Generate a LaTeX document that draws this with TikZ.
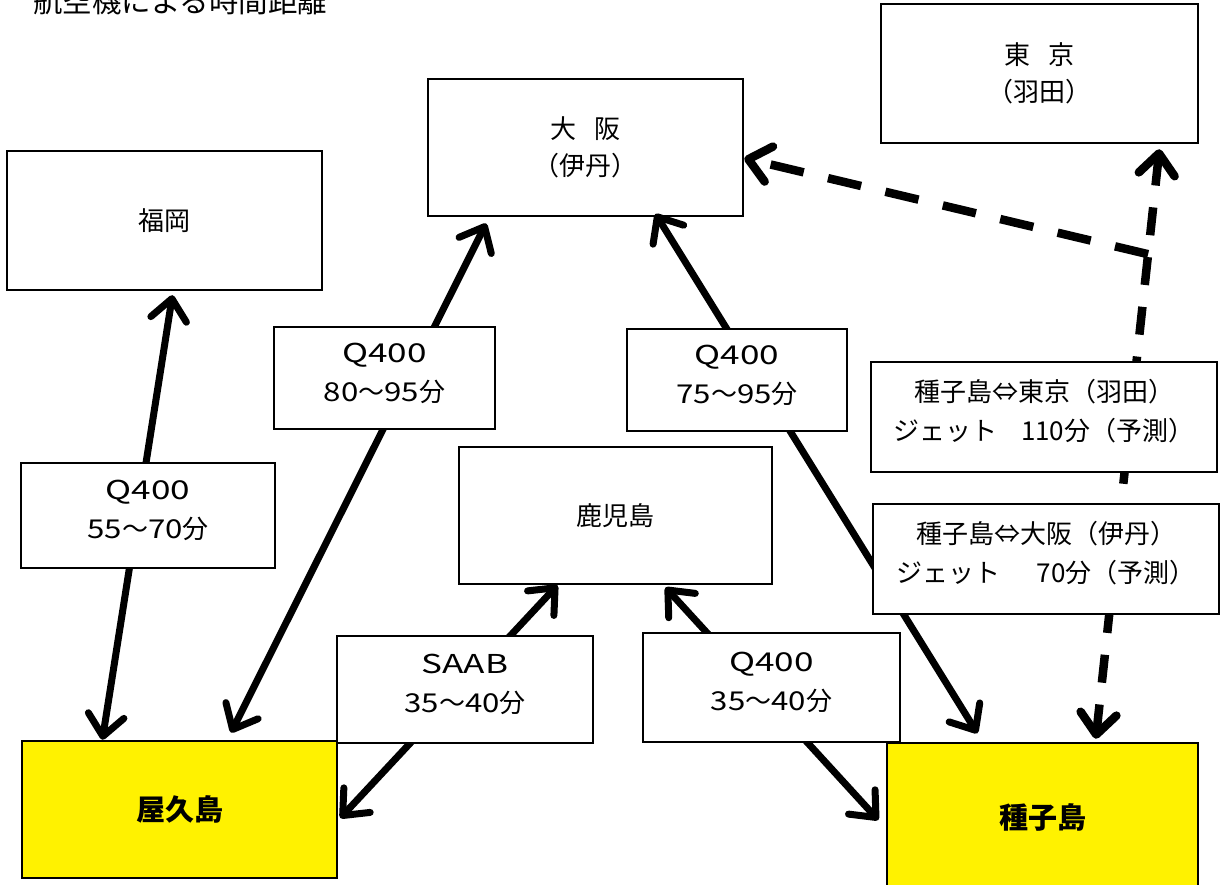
\documentclass[tikz,border=0pt]{standalone}
\usepackage{fontspec}
\setmainfont{Noto Sans CJK JP}
\newfontfamily\widedigits{Noto Sans CJK JP}[FakeStretch=1.2]
\newfontfamily\wideletters{Noto Sans CJK JP}[FakeStretch=1.35]
\newcommand\wdg[1]{{\widedigits #1}}
\newcommand\wLt[1]{{\wideletters #1}}
\usetikzlibrary{arrows.meta,calc}
\newcommand\lifted[1]{\raisebox{4pt}[\height][\depth]{\begin{tabular}{@{}c@{}}#1\end{tabular}}}
\begin{document}
\begin{tikzpicture}[x=1pt,y=-1pt,
  box/.style={draw, line width=2.5pt, fill=white, align=center, inner sep=0pt,
    font=\fontsize{26}{37}\selectfont},
  island/.style={box, fill=yellow, font=\fontsize{29}{37}\selectfont\bfseries},
  lbl/.style={draw, line width=1.3pt, fill=white, inner sep=0pt,
    font=\fontsize{26}{39}\selectfont},
  tipA/.tip={Straight Barb[length=21pt,width=36pt,round]},
  conn/.style={line width=7pt, tipA-tipA},
  dconn/.style={line width=8.5pt, dash pattern=on 28pt off 22pt},
]
\useasboundingbox (0,0) rectangle (1223,885);

\node[anchor=base west, inner sep=0pt, font=\fontsize{29.5}{30}\selectfont] (title) at (33,13) {航空機による時間距離};

% main boxes
\node[box, minimum width=317pt, minimum height=139pt] (tokyo) at (1039.5,73.5) {東\hspace{0.7em}京\\（羽田）};
\node[box, minimum width=315pt, minimum height=137pt] (osaka) at (585.5,147.5) {大\hspace{0.7em}阪\\（伊丹）};
\node[box, minimum width=315pt, minimum height=139pt] (fuk) at (164.5,220.5) {福岡};
\node[box, minimum width=313pt, minimum height=137pt] (kago) at (615.5,515.5) {鹿児島};
\node[island, minimum width=315pt, minimum height=137pt] (yaku) at (179.5,809.5) {屋久島};
\node[island, minimum width=311pt, minimum height=148pt] (tane) at (1042.5,817) {種子島};

% connectors
\draw[conn, shorten <=4pt]
  ($(fuk.south west)!0.527!(fuk.south east)$) -- ($(yaku.north west)!0.257!(yaku.north east)$);
\draw[conn, shorten <=7pt, shorten >=8pt]
  ($(osaka.south west)!0.197!(osaka.south east)$) -- ($(yaku.north west)!0.651!(yaku.north east)$);
\draw[conn, shorten <=-4pt, shorten >=10pt]
  ($(osaka.south west)!0.727!(osaka.south east)$) -- ($(tane.north west)!0.309!(tane.north east)$);
\draw[conn, shorten >=3pt]
  ($(kago.south west)!0.316!(kago.south east)$) -- ($(yaku.north east)!0.577!(yaku.south east)$);
\draw[conn, shorten <=3pt, shorten >=11pt]
  ($(kago.south west)!0.652!(kago.south east)$) -- ($(tane.north west)!0.574!(tane.south west)$);

\coordinate (tkA) at ($(tokyo.south west)!0.877!(tokyo.south east)$);
\coordinate (tnA) at ($(tane.north west)!0.669!(tane.north east)$);
\coordinate (junc) at ($(tkA)!0.184!(tnA)$);
\draw[dconn, tipA-tipA, shorten <=5pt, shorten >=3pt] (tkA) -- (tnA);
\draw[dconn, dash pattern=on 34pt off 25pt, -tipA] (junc) -- ($(osaka.north east)!0.577!(osaka.south east)$);

% labels
\node[lbl, minimum width=254pt, minimum height=105pt] (l1) at (148,515.5) {\lifted{\wLt{Q400}\\\wdg{55}～\wdg{70}分}};
\node[lbl, minimum width=221pt, minimum height=102pt] (l2) at (384.5,378) {\lifted{\wLt{Q400}\\\wdg{80}～\wdg{95}分}};
\node[lbl, minimum width=220pt, minimum height=102pt] (l3) at (737,380) {\lifted{\wLt{Q400}\\\wdg{75}～\wdg{95}分}};
\node[lbl, minimum width=346pt, minimum height=110pt] (l4) at (1044,417) {\lifted{種子島⇔東京（羽田）\\ジェット\hspace{0.9em}110分（予測）}};
\node[lbl, minimum width=346pt, minimum height=110pt] (l5) at (1046,559) {\lifted{種子島⇔大阪（伊丹）\\ジェット\hspace{1.4em}70分（予測）}};
\node[lbl, minimum width=256pt, minimum height=107pt] (l6) at (465,689.5) {\lifted{\wLt{SAAB}\\\wdg{35}～\wdg{40}分}};
\node[lbl, minimum width=257pt, minimum height=109pt] (l7) at (771.5,687.5) {\lifted{\wLt{Q400}\\\wdg{35}～\wdg{40}分}};
\end{tikzpicture}
\end{document}
